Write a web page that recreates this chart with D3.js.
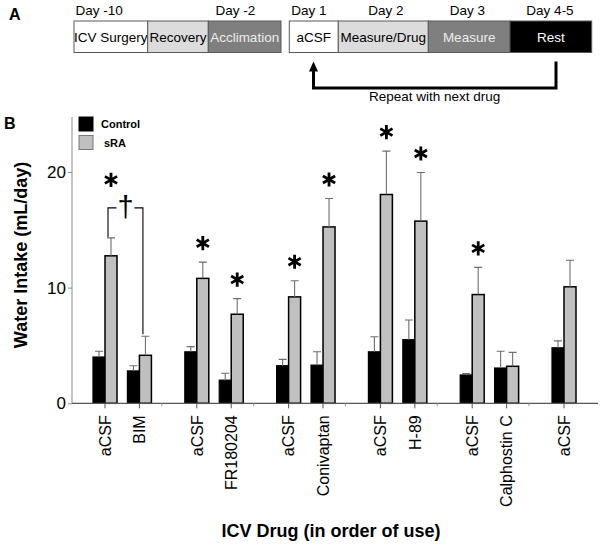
<!DOCTYPE html>
<html><head><meta charset="utf-8">
<script src="https://cdn.jsdelivr.net/npm/d3@7"></script>
<style>
body{margin:0;background:#fff}
svg{display:block}
text{font-family:"Liberation Sans",Arial,Helvetica,sans-serif}
</style>
</head><body>
<svg id="chart" width="603" height="546"></svg>
<script>
// ---------------- DATA ----------------
const categories   = ["aCSF","BIM","aCSF","FR180204","aCSF","Conivaptan","aCSF","H-89","aCSF","Calphostin C","aCSF"];
const groupIndex   = [0,0,1,1,2,2,3,3,4,4,5];
const itemInGroup  = [0,1,0,1,0,1,0,1,0,1,0];
const controlMean  = [4.0, 2.8, 4.45, 2.0, 3.25, 3.3, 4.45, 5.5, 2.45, 3.05, 4.8];
const controlErr   = [0.5, 0.45, 0.45, 0.6, 0.55, 1.15, 1.3, 1.7, 0.12, 1.45, 0.6];
const sraMean      = [12.75, 4.15, 10.8, 7.7, 9.2, 15.25, 18.05, 15.75, 9.4, 3.2, 10.07];
const sraErr       = [1.55, 1.65, 1.4, 1.35, 1.4, 2.45, 3.75, 4.2, 2.35, 1.2, 2.3];
const significant  = [true,false,true,true,true,true,true,true,true,false,false];
const yTicks       = [0, 10, 20];
const seriesNames  = ["Control","sRA"];
const seriesColors = ["#000000","#c0c0c0"];
// dagger comparison: aCSF (index 0) vs BIM (index 1)
const daggerPair   = [0, 1];

// Panel A (protocol timeline)
const stage1Labels = ["ICV Surgery","Recovery","Acclimation"];
const stage2Labels = ["aCSF","Measure/Drug","Measure","Rest"];
const day1Labels   = ["Day -10","Day -2"];
const day2Labels   = ["Day 1","Day 2","Day 3","Day 4-5"];
const repeatLabel  = "Repeat with next drug";

// ---------------- LAYOUT ----------------
const svg = d3.select("#chart");
const FONT = '"Liberation Sans",Arial,sans-serif';

// Panel A layout
const boxTop = 21, boxH = 31.5;
const stage1Edges = [74, 147.7, 208.3, 281];
const stage2Edges = [289.3, 338.3, 428.3, 510, 591.7];
const boxFill  = ["#ffffff","#dcdcdc","#7f7f7f","#000000"];
const boxText  = ["#000000","#000000","#ececec","#ffffff"];

svg.append("text").attr("x", 9).attr("y", 20).attr("font-size", 16)
   .attr("font-weight", "bold").text("A");

function drawStages(labels, edges, fills, texts) {
  const g = svg.append("g");
  labels.forEach((lab, i) => {
    g.append("rect").attr("x", edges[i]).attr("y", boxTop)
      .attr("width", edges[i+1]-edges[i]).attr("height", boxH)
      .attr("fill", fills[i]).attr("stroke", "#5a5a5a").attr("stroke-width", 1);
    g.append("text").attr("x", (edges[i]+edges[i+1])/2).attr("y", boxTop + boxH/2 + 4.8)
      .attr("text-anchor", "middle").attr("font-size", 13.5).attr("fill", texts[i]).text(lab);
  });
}
drawStages(stage1Labels, stage1Edges, [boxFill[0],boxFill[1],boxFill[2]], [boxText[0],boxText[1],boxText[2]]);
drawStages(stage2Labels, stage2Edges, boxFill, boxText);

const dayY = 15;
svg.append("text").attr("x", 75.5).attr("y", dayY).attr("font-size", 13.5).text(day1Labels[0]);
svg.append("text").attr("x", 235.5).attr("y", dayY).attr("font-size", 13.5).attr("text-anchor","middle").text(day1Labels[1]);
const day2Centers = [309, 385.8, 467.5, 550];
day2Labels.forEach((d,i) => {
  svg.append("text").attr("x", day2Centers[i]).attr("y", dayY).attr("font-size", 13.5)
     .attr("text-anchor","middle").text(d);
});

// loop arrow
const arrowLeft = 313.5, arrowRight = 556, arrowBottom = 88, arrowTopR = 61.5, arrowTipY = 61.5;
svg.append("path")
  .attr("d", `M${arrowRight},${arrowTopR} V${arrowBottom} H${arrowLeft} V${arrowTipY + 8}`)
  .attr("fill","none").attr("stroke","#000").attr("stroke-width",3);
svg.append("path")
  .attr("d", `M${arrowLeft},${arrowTipY} L${arrowLeft+4.5},${arrowTipY+10} L${arrowLeft-4.5},${arrowTipY+10} Z`)
  .attr("fill","#000");
svg.append("text").attr("x", 434.7).attr("y", 101).attr("font-size", 13.5)
   .attr("text-anchor","middle").text(repeatLabel);

// Panel B
svg.append("text").attr("x", 4).attr("y", 129).attr("font-size", 16)
   .attr("font-weight", "bold").text("B");

const groupStep = 8/3;            // slot spacing between groups
const slot = categories.map((c,i) => groupIndex[i]*groupStep + itemInGroup[i]);
const x = d3.scaleLinear().domain([0, d3.max(slot)]).range([105, 564]);
const y = d3.scaleLinear().domain([0, 24.75]).range([403.3, 117]);
const axisLeft = 72, axisRight = 598;
const barW = 12;

// y axis
const yAxis = d3.axisLeft(y).tickValues(yTicks).tickSize(4).tickFormat(d3.format("d"));
const gy = svg.append("g").attr("transform", `translate(${axisLeft},0)`).call(yAxis);
gy.select(".domain").attr("stroke", "#8a8a8a").attr("d", `M0,${y(0)}V${y.range()[1]}`);
gy.selectAll(".tick line").attr("stroke", "#8a8a8a");
gy.selectAll(".tick text").attr("font-size", 17).attr("font-family", FONT).attr("fill","#000").attr("x", -6);

// y label
svg.append("text")
  .attr("transform", `translate(27,255) rotate(-90)`)
  .attr("text-anchor","middle").attr("font-size", 18).attr("font-weight","bold")
  .text("Water Intake (mL/day)");

// bars
const gBars = svg.append("g");
categories.forEach((c,i) => {
  const cx = x(slot[i]);
  gBars.append("rect").attr("x", cx - barW).attr("y", y(controlMean[i]))
    .attr("width", barW).attr("height", y(0) - y(controlMean[i]))
    .attr("fill", seriesColors[0]).attr("stroke","#000").attr("stroke-width",1.2);
  gBars.append("rect").attr("x", cx).attr("y", y(sraMean[i]))
    .attr("width", barW).attr("height", y(0) - y(sraMean[i]))
    .attr("fill", seriesColors[1]).attr("stroke","#000").attr("stroke-width",1.5);
});

// error bars (upper only)
const gErr = svg.append("g").attr("stroke","#6e6e6e").attr("stroke-width",1.1).attr("fill","none");
function errBar(cx, m, e) {
  gErr.append("path").attr("d", `M${cx},${y(m)} V${y(m+e)} M${cx-4},${y(m+e)} H${cx+4}`);
}
categories.forEach((c,i) => {
  const cx = x(slot[i]);
  errBar(cx - barW/2, controlMean[i], controlErr[i]);
  errBar(cx + barW/2, sraMean[i], sraErr[i]);
});

// x axis
svg.append("line").attr("x1", axisLeft).attr("x2", axisRight).attr("y1", y(0)).attr("y2", y(0))
  .attr("stroke","#555").attr("stroke-width",1.2);
const gx = svg.append("g");
categories.forEach((c,i) => {
  const cx = x(slot[i]);
  gx.append("line").attr("x1", cx).attr("x2", cx).attr("y1", y(0)).attr("y2", y(0)+5)
    .attr("stroke","#555").attr("stroke-width",1);
  if (itemInGroup[i] === 1) {
    const mx = x(slot[i] + 0.65);
    gx.append("line").attr("x1", mx).attr("x2", mx).attr("y1", y(0)).attr("y2", y(0)+3)
      .attr("stroke","#999").attr("stroke-width",1);
  }
  gx.append("text")
    .attr("transform", `translate(${cx},${y(0)+12}) rotate(-90)`)
    .attr("text-anchor","end").attr("dy","0.36em").attr("font-size", 16).text(c);
});

// x label
svg.append("text").attr("x", 331).attr("y", 537).attr("text-anchor","middle")
  .attr("font-size", 18).attr("font-weight","bold").text("ICV Drug (in order of use)");

// significance markers
const star = d3.symbol().type(d3.symbolAsterisk).size(140);
const [pa, pb] = daggerPair;
const bracketY = y(sraMean[pa] + sraErr[pa]) - 30;
categories.forEach((c,i) => {
  if (!significant[i]) return;
  const cx = x(slot[i]) + barW/2;
  const cy = (i === pa) ? bracketY - 28 : y(sraMean[i] + sraErr[i]) - 19;
  svg.append("path").attr("d", star).attr("transform", `translate(${cx},${cy})`)
    .attr("fill","none").attr("stroke","#000").attr("stroke-width",2.8);
});

// bracket with dagger
const bxL = x(slot[pa]) + barW/2 - 3;
const bxR = x(slot[pb]) + barW/2 - 2.5;
const daggerX = (bxL + bxR)/2;
svg.append("path")
  .attr("d", `M${bxL},${y(sraMean[pa]+sraErr[pa]) - 1} V${bracketY} H${daggerX - 9}
              M${daggerX + 9},${bracketY} H${bxR} V${y(sraMean[pb]+sraErr[pb]) - 2}`)
  .attr("fill","none").attr("stroke","#000").attr("stroke-width",1.1);
svg.append("text").attr("x", daggerX).attr("y", bracketY + 9).attr("text-anchor","middle")
  .attr("font-size", 29).text("\u2020");

// legend
const legend = svg.append("g");
seriesNames.forEach((n,i) => {
  legend.append("rect").attr("x", 79).attr("y", 117 + i*18.5).attr("width", 14).attr("height", 14)
    .attr("fill", seriesColors[i]).attr("stroke", i ? "#777" : "#000").attr("stroke-width",1);
  legend.append("text").attr("x", i ? 104 : 101).attr("y", 127.5 + i*19).attr("font-size", 11)
    .attr("font-weight","bold").text(n);
});
</script>
</body></html>
